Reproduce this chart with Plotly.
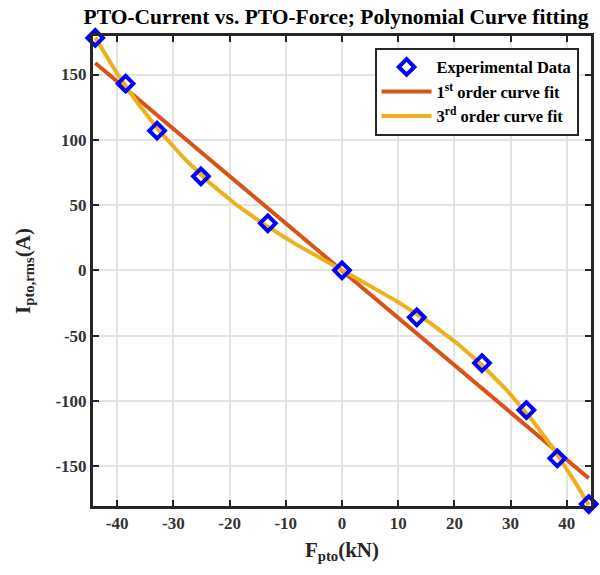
import numpy as np
import plotly.graph_objects as go

# Data
force_kN = [-43.9, -38.5, -32.9, -25.1, -13.2, 0.0, 13.3, 24.9, 32.8, 38.3, 43.9]
current_A = [178, 143, 107, 72, 36, 0, -36, -71, -107, -144, -179]
x_ticks = [-40, -30, -20, -10, 0, 10, 20, 30, 40]
x_tick_text = ["-40", "-30", "-20", "-10", "0", "10", "20", "30", "40"]
y_ticks = [-150, -100, -50, 0, 50, 100, 150]
y_tick_text = ["-150", "-100", "-50", "0", "50", "100", "150"]

x = np.array(force_kN)
y = np.array(current_A)
xf = np.linspace(x.min(), x.max(), 200)
fit1 = np.polyval(np.polyfit(x, y, 1), xf)
fit3 = np.polyval(np.polyfit(x, y, 3), xf)

FONT = "Liberation Serif"

fig = go.Figure()
fig.add_trace(go.Scatter(x=xf, y=fit1, mode="lines", name="<b>1<sup>st</sup> order curve fit</b>",
                         line=dict(color="#D95319", width=4), legendrank=2))
fig.add_trace(go.Scatter(x=xf, y=fit3, mode="lines", name="<b>3<sup>rd</sup> order curve fit</b>",
                         line=dict(color="#EDB120", width=4), legendrank=3))
fig.add_trace(go.Scatter(x=force_kN, y=current_A, mode="markers", name="<b>Experimental Data</b>",
                         marker=dict(symbol="diamond-open", size=12, color="#0000FF",
                                     line=dict(width=4, color="#0000FF")),
                         cliponaxis=False, legendrank=1))

fig.update_layout(
    width=600, height=575,
    margin=dict(l=93, r=6, t=36, b=69),
    paper_bgcolor="white", plot_bgcolor="white",
    font=dict(family=FONT, color="#262626"),
    title=dict(text="<b>PTO-Current vs. PTO-Force; Polynomial Curve fitting</b>",
               x=0.56, xanchor="center", y=0.972, yanchor="middle",
               font=dict(size=21.5, color="black", family=FONT)),
    legend=dict(x=0.975, y=0.975, xanchor="right", yanchor="top",
                bordercolor="#262626", borderwidth=2, bgcolor="white",
                font=dict(size=16.5, color="black", family=FONT),
                traceorder="normal", tracegroupgap=0, itemwidth=50),
    showlegend=True,
)
fig.update_xaxes(range=[-44.3, 44.3], tickvals=x_ticks, ticktext=["<b>%s</b>" % t for t in x_tick_text],
                 ticks="inside", ticklen=6, tickwidth=2,
                 tickcolor="#262626", showline=True, linewidth=3, linecolor="#262626", mirror="ticks",
                 showgrid=True, gridcolor="#e3e3e3", gridwidth=2, zeroline=False,
                 tickfont=dict(size=17, family=FONT, color="#333333"),
                 title=dict(text="<b>F<sub>pto</sub>(kN)</b>", font=dict(size=21, family=FONT, color="#262626"),
                            standoff=10))
fig.update_yaxes(range=[-180.5, 179.5], tickvals=y_ticks, ticktext=["<b>%s</b>" % t for t in y_tick_text],
                 ticks="inside", ticklen=6, tickwidth=2,
                 tickcolor="#262626", showline=True, linewidth=3, linecolor="#262626", mirror="ticks",
                 showgrid=True, gridcolor="#e3e3e3", gridwidth=2, zeroline=False,
                 tickfont=dict(size=17, family=FONT, color="#333333"),
                 title=dict(text="<b>I<sub>pto,rms</sub>(A)</b>", font=dict(size=21, family=FONT, color="#262626"),
                            standoff=20))

fig.write_html("out.html")
